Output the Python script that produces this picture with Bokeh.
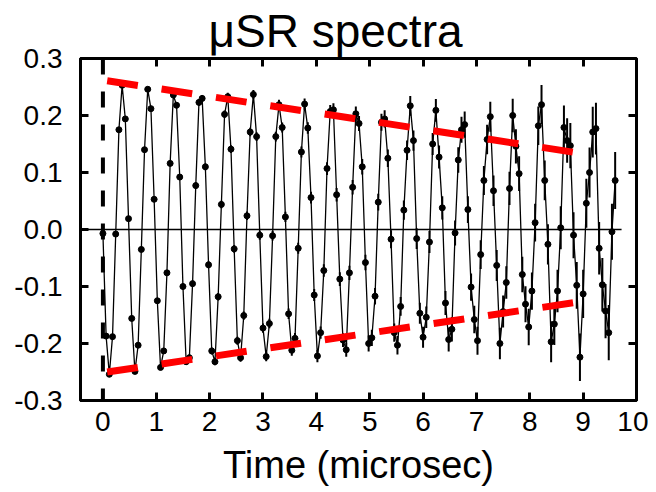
from bokeh.plotting import figure
from bokeh.models import (Range1d, LinearAxis, FixedTicker, PrintfTickFormatter, Span,
                          ColumnDataSource, CustomJSTickFormatter)
from bokeh.embed import file_html
from bokeh.resources import INLINE

# ---- data ----
time_us = [0.00, 0.06, 0.12, 0.18, 0.24, 0.30, 0.36, 0.42, 0.48, 0.54,
           0.60, 0.66, 0.72, 0.78, 0.84, 0.90, 0.96, 1.02, 1.08, 1.14,
           1.20, 1.26, 1.32, 1.38, 1.44, 1.50, 1.56, 1.62, 1.68, 1.74,
           1.80, 1.86, 1.92, 1.98, 2.04, 2.10, 2.16, 2.22, 2.28, 2.34,
           2.40, 2.46, 2.52, 2.58, 2.64, 2.70, 2.76, 2.82, 2.88, 2.94,
           3.00, 3.06, 3.12, 3.18, 3.24, 3.30, 3.36, 3.42, 3.48, 3.54,
           3.60, 3.66, 3.72, 3.78, 3.84, 3.90, 3.96, 4.02, 4.08, 4.14,
           4.20, 4.26, 4.32, 4.38, 4.44, 4.50, 4.56, 4.62, 4.68, 4.74,
           4.80, 4.86, 4.92, 4.98, 5.04, 5.10, 5.16, 5.22, 5.28, 5.34,
           5.40, 5.46, 5.52, 5.58, 5.64, 5.70, 5.76, 5.82, 5.88, 5.94,
           6.00, 6.06, 6.12, 6.18, 6.24, 6.30, 6.36, 6.42, 6.48, 6.54,
           6.60, 6.66, 6.72, 6.78, 6.84, 6.90, 6.96, 7.02, 7.08, 7.14,
           7.20, 7.26, 7.32, 7.38, 7.44, 7.50, 7.56, 7.62, 7.68, 7.74,
           7.80, 7.86, 7.92, 7.98, 8.04, 8.10, 8.16, 8.22, 8.28, 8.34,
           8.40, 8.46, 8.52, 8.58, 8.64, 8.70, 8.76, 8.82, 8.88, 8.94,
           9.00, 9.06, 9.12, 9.18, 9.24, 9.30, 9.36, 9.42, 9.48, 9.54,
           9.60]

asymmetry = [-0.007, -0.187, -0.254, -0.188, -0.008, 0.175, 0.253, 0.194, 0.019, -0.156,
             -0.249, -0.203, -0.035, 0.140, 0.246, 0.212, 0.053, -0.125, -0.242, -0.213,
             -0.076, 0.116, 0.236, 0.218, 0.092, -0.100, -0.232, -0.225, -0.095, 0.077,
             0.223, 0.230, 0.110, -0.062, -0.213, -0.232, -0.118, 0.044, 0.202, 0.233,
             0.141, -0.034, -0.195, -0.225, -0.151, 0.024, 0.171, 0.237, 0.163, -0.010,
             -0.173, -0.223, -0.165, -0.011, 0.163, 0.219, 0.179, 0.022, -0.148, -0.212,
             -0.191, -0.033, 0.136, 0.220, 0.178, 0.056, -0.115, -0.222, -0.181, -0.072,
             0.107, 0.207, 0.210, 0.061, -0.087, -0.194, -0.211, -0.076, 0.074, 0.203,
             0.186, 0.110, -0.058, -0.200, -0.190, -0.117, 0.048, 0.188, 0.194, 0.125,
             -0.017, -0.181, -0.203, -0.135, 0.034, 0.139, 0.217, 0.156, -0.016, -0.147,
             -0.189, -0.154, -0.022, 0.150, 0.209, 0.127, 0.038, -0.129, -0.193, -0.175,
             -0.006, 0.122, 0.175, 0.184, 0.035, -0.101, -0.158, -0.195, -0.044, 0.086,
             0.158, 0.198, 0.068, -0.063, -0.200, -0.144, -0.093, 0.072, 0.200, 0.146,
             0.098, -0.079, -0.131, -0.171, -0.108, 0.012, 0.182, 0.219, 0.086, -0.026,
             -0.197, -0.166, -0.108, 0.003, 0.179, 0.156, 0.147, -0.010, -0.098, -0.224,
             -0.113, 0.046, 0.100, 0.171, 0.177, -0.033, -0.097, -0.143, -0.181, -0.004,
             0.086]

error = [0.0035, 0.0036, 0.0036, 0.0037, 0.0037, 0.0038, 0.0038, 0.0039, 0.0040, 0.0040,
         0.0041, 0.0042, 0.0042, 0.0043, 0.0044, 0.0045, 0.0045, 0.0046, 0.0047, 0.0048,
         0.0049, 0.0049, 0.0050, 0.0051, 0.0052, 0.0053, 0.0054, 0.0055, 0.0056, 0.0057,
         0.0058, 0.0059, 0.0060, 0.0061, 0.0062, 0.0063, 0.0064, 0.0065, 0.0066, 0.0067,
         0.0068, 0.0069, 0.0070, 0.0072, 0.0073, 0.0074, 0.0075, 0.0076, 0.0078, 0.0079,
         0.0081, 0.0082, 0.0083, 0.0085, 0.0086, 0.0087, 0.0089, 0.0090, 0.0092, 0.0093,
         0.0095, 0.0097, 0.0098, 0.0100, 0.0101, 0.0103, 0.0105, 0.0107, 0.0108, 0.0110,
         0.0112, 0.0114, 0.0116, 0.0118, 0.0120, 0.0122, 0.0124, 0.0126, 0.0128, 0.0130,
         0.0133, 0.0135, 0.0137, 0.0139, 0.0142, 0.0144, 0.0147, 0.0149, 0.0152, 0.0154,
         0.0157, 0.0160, 0.0162, 0.0165, 0.0168, 0.0171, 0.0174, 0.0177, 0.0180, 0.0183,
         0.0185, 0.0189, 0.0192, 0.0195, 0.0199, 0.0202, 0.0205, 0.0209, 0.0212, 0.0216,
         0.0219, 0.0223, 0.0227, 0.0231, 0.0234, 0.0238, 0.0242, 0.0246, 0.0251, 0.0255,
         0.0259, 0.0263, 0.0268, 0.0272, 0.0277, 0.0281, 0.0286, 0.0291, 0.0296, 0.0300,
         0.0305, 0.0310, 0.0316, 0.0321, 0.0326, 0.0332, 0.0337, 0.0343, 0.0349, 0.0354,
         0.0361, 0.0366, 0.0372, 0.0378, 0.0384, 0.0391, 0.0397, 0.0404, 0.0410, 0.0417,
         0.0424, 0.0431, 0.0438, 0.0445, 0.0453, 0.0460, 0.0468, 0.0476, 0.0484, 0.0492,
         0.0500]

# envelope guide lines (red dashed)
envelope_t = [0.08, 9.00]
envelope_upper = [0.261, 0.133]
envelope_lower = [-0.250, -0.126]

# baseline at zero
baseline_t = [-0.42, 9.72]
baseline_y = [0.0, 0.0]

x_ticks = [0, 1, 2, 3, 4, 5, 6, 7, 8, 9, 10]
y_ticks = [-0.3, -0.2, -0.1, 0.0, 0.1, 0.2, 0.3]

FONT = "Liberation Sans"

src = ColumnDataSource(dict(
    t=time_us, a=asymmetry,
    lo=[a - e for a, e in zip(asymmetry, error)],
    hi=[a + e for a, e in zip(asymmetry, error)],
))

p = figure(width=648, height=490, output_backend="svg", toolbar_location=None,
           x_range=Range1d(-0.42, 10.0), y_range=Range1d(-0.3, 0.3),
           min_border_left=80, min_border_right=12, min_border_top=58, min_border_bottom=90,
           title="μSR spectra")
p.title.align = "left"
p.title.offset = 128
p.title.vertical_align = "top"
p.title.text_font = FONT
p.title.text_font_size = "46px"
p.title.text_font_style = "normal"
p.title.text_color = "black"
p.title.standoff = 0
p.grid.visible = False
p.outline_line_color = "black"
p.outline_line_width = 3
p.background_fill_color = "white"
p.border_fill_color = "white"

xa = p.xaxis[0]
ya = p.yaxis[0]
xa.ticker = FixedTicker(ticks=x_ticks)
ya.ticker = FixedTicker(ticks=y_ticks)
ya.formatter = PrintfTickFormatter(format="%.1f")
for ax in (xa, ya):
    ax.axis_line_width = 3
    ax.major_tick_in = 8
    ax.major_tick_out = 0
    ax.major_tick_line_width = 3
    ax.minor_tick_line_color = None
    ax.major_label_text_font = FONT
    ax.major_label_text_font_size = "28px"
    ax.major_label_text_color = "black"
xa.major_label_standoff = 11
ya.major_label_standoff = 18
xa.axis_label = "Time (microsec)"
xa.axis_label_text_font = FONT
xa.axis_label_text_font_size = "38px"
xa.axis_label_text_font_style = "normal"
xa.axis_label_text_color = "black"
xa.axis_label_standoff = 10

top = LinearAxis(ticker=FixedTicker(ticks=x_ticks[:-1]),
                 formatter=CustomJSTickFormatter(code="return ''"))
right = LinearAxis(ticker=FixedTicker(ticks=[-0.2, -0.1, 0.1, 0.2]),
                   formatter=CustomJSTickFormatter(code="return ''"))
for ax in (top, right):
    ax.axis_line_width = 3
    ax.major_tick_in = 8
    ax.major_tick_out = 0
    ax.major_tick_line_width = 3
    ax.minor_tick_line_color = None
    ax.major_label_text_font_size = "1px"
    ax.major_label_standoff = 0
p.add_layout(top, "above")
p.add_layout(right, "right")

# reference lines
p.line(baseline_t, baseline_y, line_color="black", line_width=1.5)
p.add_layout(Span(location=0, dimension="height", line_color="black",
                  line_width=4, line_dash="16 17"))

# data
p.line("t", "a", source=src, line_color="black", line_width=1.3)
p.segment(x0="t", y0="lo", x1="t", y1="hi", source=src, line_color="black", line_width=2)
p.scatter("t", "a", source=src, size=6, color="black")

# envelope
p.line(envelope_t, envelope_upper, line_color="#ff0000", line_width=7, line_dash="31 24")
p.line(envelope_t, envelope_lower, line_color="#ff0000", line_width=7, line_dash="31 24")

open("out.html", "w").write(file_html(p, INLINE))
